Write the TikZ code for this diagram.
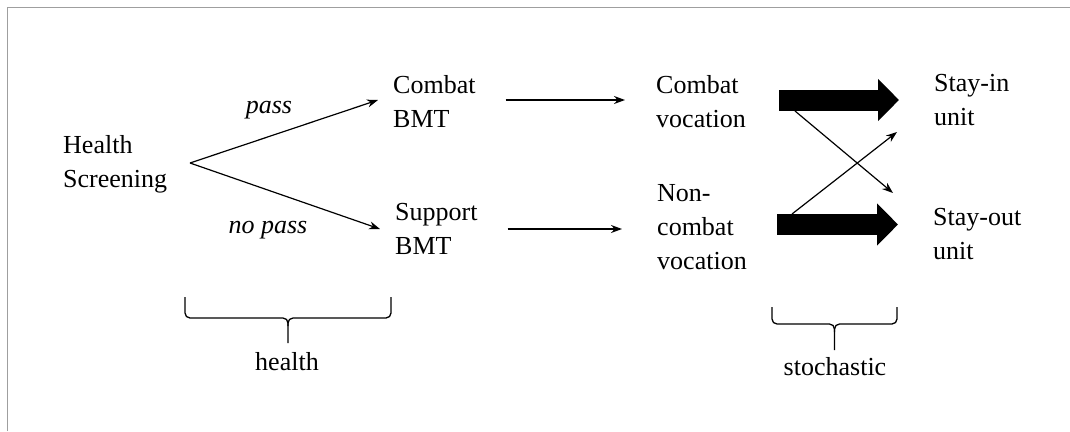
\documentclass[tikz,border=0pt]{standalone}
\usepackage{fontspec}
\setmainfont{Liberation Serif}
\newfontfamily\diagfont{Liberation Serif}
\usetikzlibrary{arrows.meta}

\begin{document}
\begin{tikzpicture}[x=1pt,y=-1pt,
  every node/.style={font=\diagfont\fontsize{26}{34}\selectfont,inner sep=0pt},
  stage/.style={anchor=west,align=left},
  lab/.style={anchor=base,font=\diagfont\fontsize{26}{34}\selectfont\itshape},
  arr/.style={-{Stealth[length=11pt,width=8pt]},line width=1.2pt},
  fat/.style={line width=21pt,-{Triangle[length=21pt,width=41pt]}},
  brk/.style={line width=1.3pt,rounded corners=5pt}]
\useasboundingbox (0,0) rectangle (1070,431);
\draw[gray!75,line width=1.5pt] (7.5,431) -- (7.5,7.5) -- (1070,7.5);

\node[stage] (health) at (63,164) {Health\\Screening};
\node[stage] (cbmt) at (393,102) {Combat\\BMT};
\node[stage] (sbmt) at (395,229) {Support\\BMT};
\node[stage] (cvoc) at (656,102) {Combat\\vocation};
\node[stage] (nvoc) at (657,227) {Non-\\combat\\vocation};
\node[stage] (stin) at (934,100) {Stay-in\\unit};
\node[stage] (stout) at (933,234) {Stay-out\\unit};

\node[lab] (pass) at (269,113) {pass};
\node[lab] (nopass) at (268,233) {no pass};

\coordinate (fork) at (190,163);
\draw[arr] (fork) -- ([xshift=-15pt,yshift=2pt]cbmt.west);
\draw[arr] (fork) -- ([xshift=-15pt]sbmt.west);

\draw[arr] ([xshift=30pt,yshift=2pt]cbmt.east) -- ([xshift=-31pt,yshift=2pt]cbmt.east -| cvoc.west);
\draw[arr] ([xshift=30pt]sbmt.east) -- ([xshift=-35pt]sbmt.east -| nvoc.west);

% stochastic switch
\coordinate (t1) at (779,100);
\coordinate (h1) at (899,100);
\coordinate (t2) at (777,224.5);
\coordinate (h2) at (898,224.5);
\draw[fat] (t1) -- (h1);
\draw[fat] (t2) -- (h2);
\coordinate (x1) at (795,111);
\coordinate (y1) at (893,193);
\coordinate (x2) at (792,214);
\coordinate (y2) at (897,132);
\draw[arr] (x1) -- (y1);
\draw[arr] (x2) -- (y2);

% braces
\foreach \l/\r/\t/\h/\b in {185/391/297/318/343,772/897/307/324/350}
{
\pgfmathsetmacro\m{(\l+\r)/2}
\draw[brk] (\l,\t) -- (\l,\h) -- (\m,\h) -- (\m,\b);
\draw[brk] (\r,\t) -- (\r,\h) -- (\m,\h) -- (\m,{\h+8});
}
\node[anchor=base] (hlab) at (287,370) {health};
\node[anchor=base] (slab) at (835,375) {stochastic};
\end{tikzpicture}
\end{document}
